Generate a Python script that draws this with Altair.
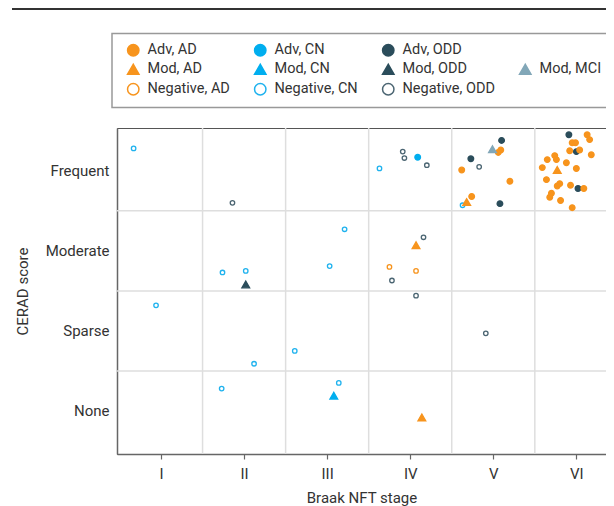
import altair as alt
import pandas as pd

# ---- categories / styling per group (legend is filled column by column) ----
groups = ["Adv, AD", "Mod, AD", "Negative, AD",
          "Adv, CN", "Mod, CN", "Negative, CN",
          "Adv, ODD", "Mod, ODD", "Negative, ODD",
          " ", "Mod, MCI"]
fill_colors = ["#F7941D", "#F7941D", "white",
               "#00AEEF", "#00AEEF", "white",
               "#2B4D5B", "#2B4D5B", "white",
               "transparent", "#82A7B8"]
stroke_colors = ["#F7941D", "#F7941D", "#F7941D",
                 "#00AEEF", "#00AEEF", "#1FB2EE",
                 "#2B4D5B", "#2B4D5B", "#4B6572",
                 "transparent", "#82A7B8"]
shapes = ["circle", "triangle-up", "circle",
          "circle", "triangle-up", "circle",
          "circle", "triangle-up", "circle",
          "circle", "triangle-up"]
marker_kind = ["dot", "tri", "ring",
               "dot", "tri", "ring",
               "dot", "tri", "ring",
               "dot", "tri"]

braak_labels = ["I", "II", "III", "IV", "V", "VI"]
cerad_labels = ["None", "Sparse", "Moderate", "Frequent"]
v_grid = [1.5, 2.5, 3.5, 4.5, 5.5]
h_grid = [1.5, 2.5, 3.5]

# ---- data (jittered positions) ----
adv_ad_x = [6.13, 6.16, 5.95, 5.99, 5.92, 6.04, 6.18, 5.74, 5.65, 5.76, 5.88,
            5.59, 6.00, 5.64, 5.80, 5.77, 5.93, 6.09, 5.70, 5.68, 5.81, 5.95,
            5.09, 5.06, 4.62, 5.20, 4.74]
adv_ad_y = [4.45, 4.39, 4.35, 4.35, 4.25, 4.26, 4.20, 4.19, 4.14, 4.14, 4.10,
            4.04, 4.03, 3.89, 3.84, 3.81, 3.82, 3.78, 3.72, 3.67, 3.63, 3.54,
            4.26, 4.23, 4.01, 3.87, 3.68]
mod_ad_x = [5.77, 4.68, 4.07, 4.14]
mod_ad_y = [4.01, 3.61, 3.07, 0.92]
neg_ad_x = [3.75, 4.07]
neg_ad_y = [2.80, 2.75]
adv_cn_x = [4.09]
adv_cn_y = [4.17]
mod_cn_x = [3.08]
mod_cn_y = [1.19]
neg_cn_x = [0.67, 3.63, 4.63, 3.21, 1.74, 2.02, 3.03, 0.94, 2.61, 2.12, 1.73, 3.14]
neg_cn_y = [4.28, 4.03, 3.57, 3.27, 2.73, 2.75, 2.81, 2.32, 1.75, 1.59, 1.28, 1.35]
adv_odd_x = [5.91, 6.00, 6.02, 5.10, 4.73, 5.08]
adv_odd_y = [4.45, 4.24, 3.78, 4.38, 4.15, 3.59]
mod_odd_x = [2.02]
mod_odd_y = [2.58]
neg_odd_x = [1.86, 3.91, 3.93, 4.20, 4.83, 4.16, 3.78, 4.07, 4.91]
neg_odd_y = [3.60, 4.24, 4.16, 4.07, 4.05, 3.17, 2.63, 2.44, 1.97]
mod_mci_x = [4.99]
mod_mci_y = [4.27]

series = [
    ("Negative, CN", neg_cn_x, neg_cn_y),
    ("Negative, ODD", neg_odd_x, neg_odd_y),
    ("Negative, AD", neg_ad_x, neg_ad_y),
    ("Adv, ODD", adv_odd_x, adv_odd_y),
    ("Adv, CN", adv_cn_x, adv_cn_y),
    ("Adv, AD", adv_ad_x, adv_ad_y),
    ("Mod, MCI", mod_mci_x, mod_mci_y),
    ("Mod, ODD", mod_odd_x, mod_odd_y),
    ("Mod, CN", mod_cn_x, mod_cn_y),
    ("Mod, AD", mod_ad_x, mod_ad_y),
]
kind_of = dict(zip(groups, marker_kind))
rows = []
order = 0
for g, xs, ys in series:
    for xv, yv in zip(xs, ys):
        rows.append({"grp": g, "kind": kind_of[g], "braak": xv, "cerad": yv, "ord": order})
        order += 1
df = pd.DataFrame(rows)

FONT = "Roboto"

xscale = alt.Scale(domain=[0.47, 6.357], nice=False, zero=False)
yscale = alt.Scale(domain=[0.4625, 4.535], nice=False, zero=False)

x_label_expr = "[" + ",".join(f"'{l}'" for l in braak_labels) + "][datum.value - 1]"
y_label_expr = "[" + ",".join(f"'{l}'" for l in cerad_labels) + "][datum.value - 1]"

X = alt.X("braak:Q", scale=xscale,
          axis=alt.Axis(title="Braak NFT stage", values=[1, 2, 3, 4, 5, 6],
                        labelExpr=x_label_expr, grid=False,
                        tickSize=5, labelPadding=7,
                        titleY=48, titleBaseline="alphabetic"))
Y = alt.Y("cerad:Q", scale=yscale,
          axis=alt.Axis(title="CERAD score", values=[1, 2, 3, 4],
                        labelExpr=y_label_expr, grid=False, ticks=False,
                        labelPadding=8, titleX=-95, titleY=163,
                        titleBaseline="middle"))

vgrid = alt.Chart(pd.DataFrame({"braak": v_grid})).mark_rule(
    color="#dedede", strokeWidth=1.5
).encode(x=X)

hgrid = alt.Chart(pd.DataFrame({"cerad": h_grid})).mark_rule(
    color="#dedede", strokeWidth=1.5
).encode(y=Y)

leg = alt.Legend(title=None, columns=4)
FILL = alt.Fill("grp:N", scale=alt.Scale(domain=groups, range=fill_colors), legend=leg)
STROKE = alt.Stroke("grp:N", scale=alt.Scale(domain=groups, range=stroke_colors), legend=leg)
SHAPE = alt.Shape("grp:N", scale=alt.Scale(domain=groups, range=shapes), legend=leg)


def point_layer(kind, size):
    return alt.Chart(df).transform_filter(
        alt.datum.kind == kind
    ).mark_point(filled=True, strokeWidth=1.3, opacity=1, size=size).encode(
        x=X, y=Y, fill=FILL, stroke=STROKE, shape=SHAPE, order=alt.Order("ord:Q"),
    )


rings = point_layer("ring", 20)
dots = point_layer("dot", 32)
tris = point_layer("tri", 60)

top_rule = alt.Chart(pd.DataFrame({"a": [0]})).mark_rule(
    color="#333333", strokeWidth=2
).encode(x=alt.value(-105), x2=alt.value(489), y=alt.value(-119))

chart = alt.layer(vgrid, hgrid, rings, dots, tris, top_rule).properties(
    width=489, height=326,
    autosize=alt.AutoSizeParams(type="none"),
    padding={"left": 109, "top": 120, "right": 0, "bottom": 52},
).configure(font=FONT).configure_view(
    stroke="#555555", strokeWidth=1
).configure_axis(
    domainColor="#666666", domainWidth=1.5, tickColor="#666666", tickWidth=1.2,
    labelFontSize=15, titleFontSize=15, labelColor="#333333", titleColor="#333333",
    titleFontWeight="normal",
).configure_legend(
    orient="none", legendX=-5, legendY=-94.5,
    strokeColor="#999999", strokeWidth=1.5, padding=9.5, symbolOffset=4.5,
    rowPadding=2, columnPadding=18, symbolSize=130, symbolStrokeWidth=1.5,
    labelOffset=7, labelFontSize=14.5, labelColor="#333333",
)

chart.save("out.html", embed_options={"renderer": "svg", "actions": False})
